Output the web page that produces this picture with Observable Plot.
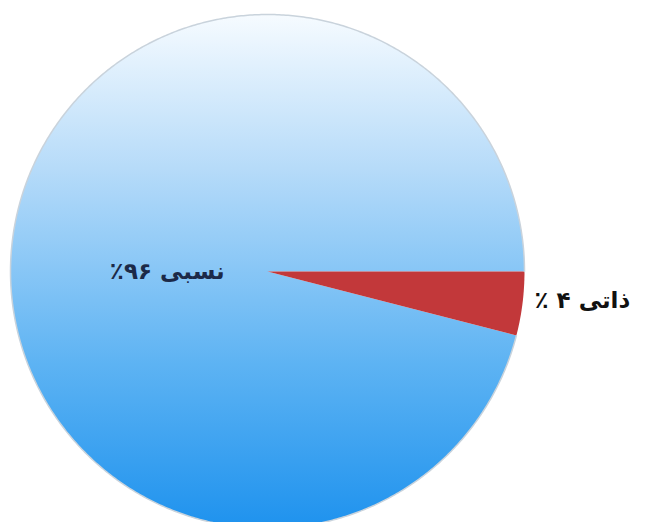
<!DOCTYPE html>
<html>
<head>
<meta charset="utf-8">
<script src="https://cdn.jsdelivr.net/npm/d3@7"></script>
<script src="https://cdn.jsdelivr.net/npm/@observablehq/plot@0.6"></script>
<style>
  html, body { margin: 0; padding: 0; background: #fff; }
  svg { display: block; }
</style>
</head>
<body>
<div id="chart"></div>
<script>
// Data
const categories = ["نسبی", "ذاتی"];
const values = [96, 4];
const labels = ["نسبی ۹۶٪", "ذاتی ۴ ٪"];
const fills = ["url(#blueGrad)", "#c2383a"];

// Slice angles
const total = d3.sum(values);
let acc = 0;
const slices = categories.map((c, i) => {
  const a0 = acc / total * 2 * Math.PI;
  acc += values[i];
  const a1 = acc / total * 2 * Math.PI;
  return {category: c, value: values[i], label: labels[i], fill: fills[i], a0, a1};
});
// Small slice first, clockwise from 3 o'clock
const ordered = [slices[1], slices[0]];
let start = 0;
ordered.forEach(s => { const span = s.a1 - s.a0; s.s0 = start; s.s1 = start + span; start += span; });

// Slice outlines (clockwise on screen => negative math angle)
const pts = [];
const arcPts = [];
ordered.forEach(s => {
  pts.push({category: s.category, x: 0, y: 0});
  const n = Math.max(4, Math.ceil((s.s1 - s.s0) / (Math.PI / 360)));
  for (let k = 0; k <= n; k++) {
    const a = -(s.s0 + (s.s1 - s.s0) * k / n);
    const p = {category: s.category, x: Math.cos(a), y: Math.sin(a)};
    pts.push(p);
    if (s.value > 50) arcPts.push(p);
  }
});

// Label positions: large slice inside, small slice outside
const labelData = ordered.map(s => {
  const big = s.value > 50;
  const mid = big ? Math.PI : -(s.s0 + s.s1) / 2;
  const r = big ? 0.39 : 1.235;
  return {label: s.label, x: r * Math.cos(mid), y: big ? 0 : -0.115, big};
});

const chart = Plot.plot({
  width: 645,
  height: 522,
  margin: 0,
  x: {domain: [-1, 1], range: [10, 524], axis: null},
  y: {domain: [-1, 1], range: [528, 14], axis: null},
  style: {direction: "rtl", background: "#fff"},
  marks: [
    Plot.line(pts.filter(d => d.category === categories[0]), {
      x: "x", y: "y", curve: "linear-closed",
      fill: fills[0], stroke: "none"
    }),
    Plot.line(pts.filter(d => d.category === categories[1]), {
      x: "x", y: "y", curve: "linear-closed",
      fill: fills[1], stroke: "none"
    }),
    Plot.line(arcPts, {
      x: "x", y: "y", stroke: "#c9d3dc", strokeWidth: 1.5
    }),
    Plot.text(labelData.filter(d => d.big), {
      x: "x", y: "y", text: "label",
      fontSize: 23, fontWeight: "bold", fill: "#1c2a48",
      fontFamily: "DejaVu Sans", textAnchor: "middle"
    }),
    Plot.text(labelData.filter(d => !d.big), {
      x: "x", y: "y", text: "label",
      fontSize: 23, fontWeight: "bold", fill: "#111",
      fontFamily: "DejaVu Sans", textAnchor: "middle"
    })
  ]
});

// Gradient for the blue slice
const ns = "http://www.w3.org/2000/svg";
const defs = document.createElementNS(ns, "defs");
const grad = document.createElementNS(ns, "linearGradient");
grad.setAttribute("id", "blueGrad");
grad.setAttribute("x1", "0"); grad.setAttribute("y1", "0");
grad.setAttribute("x2", "0"); grad.setAttribute("y2", "1");
[["0", "#f6fbff"], ["0.3", "#b6dbf9"], ["0.68", "#5db3f3"], ["1", "#1e92ee"]].forEach(([o, c]) => {
  const st = document.createElementNS(ns, "stop");
  st.setAttribute("offset", o);
  st.setAttribute("stop-color", c);
  grad.appendChild(st);
});
defs.appendChild(grad);
chart.insertBefore(defs, chart.firstChild);

document.getElementById("chart").appendChild(chart);
</script>
</body>
</html>
